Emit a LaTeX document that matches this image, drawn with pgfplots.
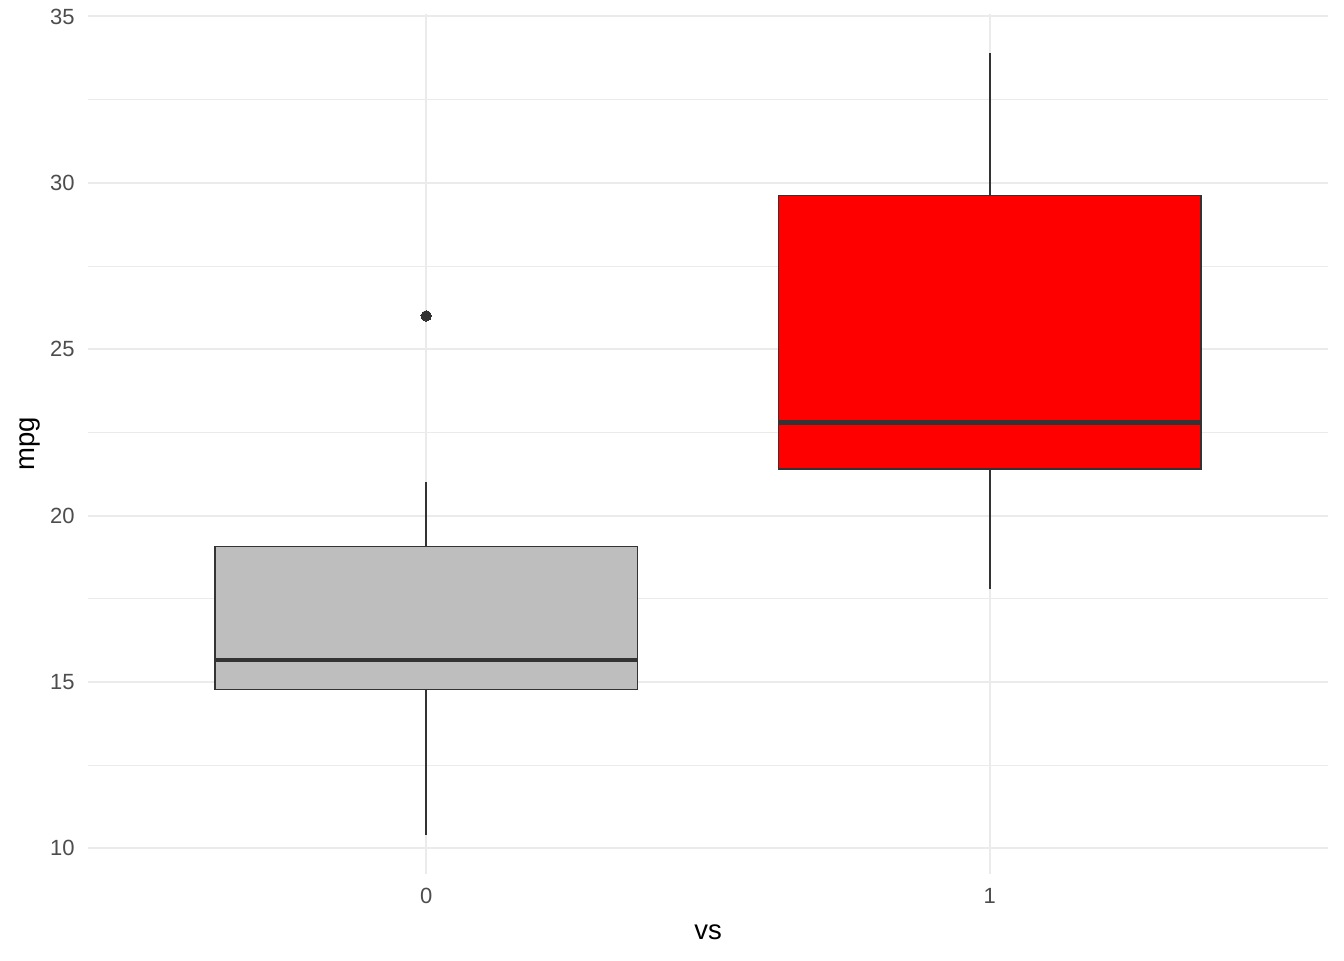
\documentclass[border=0pt]{standalone}
\usepackage{pgfplots}
\pgfplotsset{compat=1.18}
\usepgfplotslibrary{statistics}
\usepackage{fontspec}
\setmainfont{Liberation Sans}
\definecolor{gridc}{HTML}{EBEBEB}
\definecolor{tickc}{HTML}{4D4D4D}
\definecolor{boxc}{HTML}{333333}
\definecolor{grayfill}{HTML}{BEBEBE}
\begin{document}
\begin{tikzpicture}
\begin{axis}[name=ax,
  scale only axis, width=620pt, height=430pt,
  xmin=-0.6, xmax=1.6, ymin=9.225, ymax=35.075,
  axis line style={draw=none},
  major tick length=0pt, minor tick length=0pt,
  tick style={draw=none},
  xtick={0,1}, xticklabels={0,1},
  ytick={10,15,20,25,30,35},
  minor ytick={12.5,17.5,22.5,27.5,32.5},
  /pgf/number format/assume math mode=true,
  ymajorgrids, xmajorgrids, yminorgrids,
  major grid style={draw=gridc, line width=1pt},
  minor grid style={draw=gridc, line width=0.5pt},
  ticklabel style={font=\fontsize{11}{13}\selectfont, text=tickc},
  yticklabel style={anchor=east, inner sep=0pt, xshift=-6.5pt},
  xticklabel style={anchor=north, inner sep=0pt, yshift=-7pt},
  xlabel={vs}, ylabel={mpg},
  label style={font=\fontsize{13.75}{16}\selectfont, text=black},
  xlabel style={at={(axis description cs:0.5,-0.0674)}, anchor=center},
  ylabel style={at={(axis description cs:-0.0468,0.5)}, anchor=center},
  boxplot/draw direction=y,
  boxplot/box extend=0.75,
  boxplot/whisker extend=0,
  clip=false,
]
\addplot+[solid, draw=boxc, line width=0.8pt, fill=grayfill,
  mark=*, mark size=2.6pt, mark options={fill=boxc, draw=boxc, line width=0pt},
  boxplot prepared={draw position=0, lower whisker=10.4, lower quartile=14.775,
    median=15.65, upper quartile=19.075, upper whisker=21.0},
  boxplot/every median/.style={line width=2.2pt, draw=boxc},
  boxplot/every whisker/.style={line width=0.7pt, draw=boxc}]
  table[row sep=\\, y index=0] {26\\};
\addplot+[solid, draw=boxc, line width=0.8pt, fill=red,
  mark=none,
  boxplot prepared={draw position=1, lower whisker=17.8, lower quartile=21.4,
    median=22.8, upper quartile=29.625, upper whisker=33.9},
  boxplot/every median/.style={line width=2.2pt, draw=boxc},
  boxplot/every whisker/.style={line width=0.7pt, draw=boxc}]
  coordinates {};
\end{axis}
\useasboundingbox ([xshift=-44pt,yshift=-43pt]ax.south west) rectangle ([xshift=8pt,yshift=7pt]ax.north east);
\end{tikzpicture}
\end{document}
